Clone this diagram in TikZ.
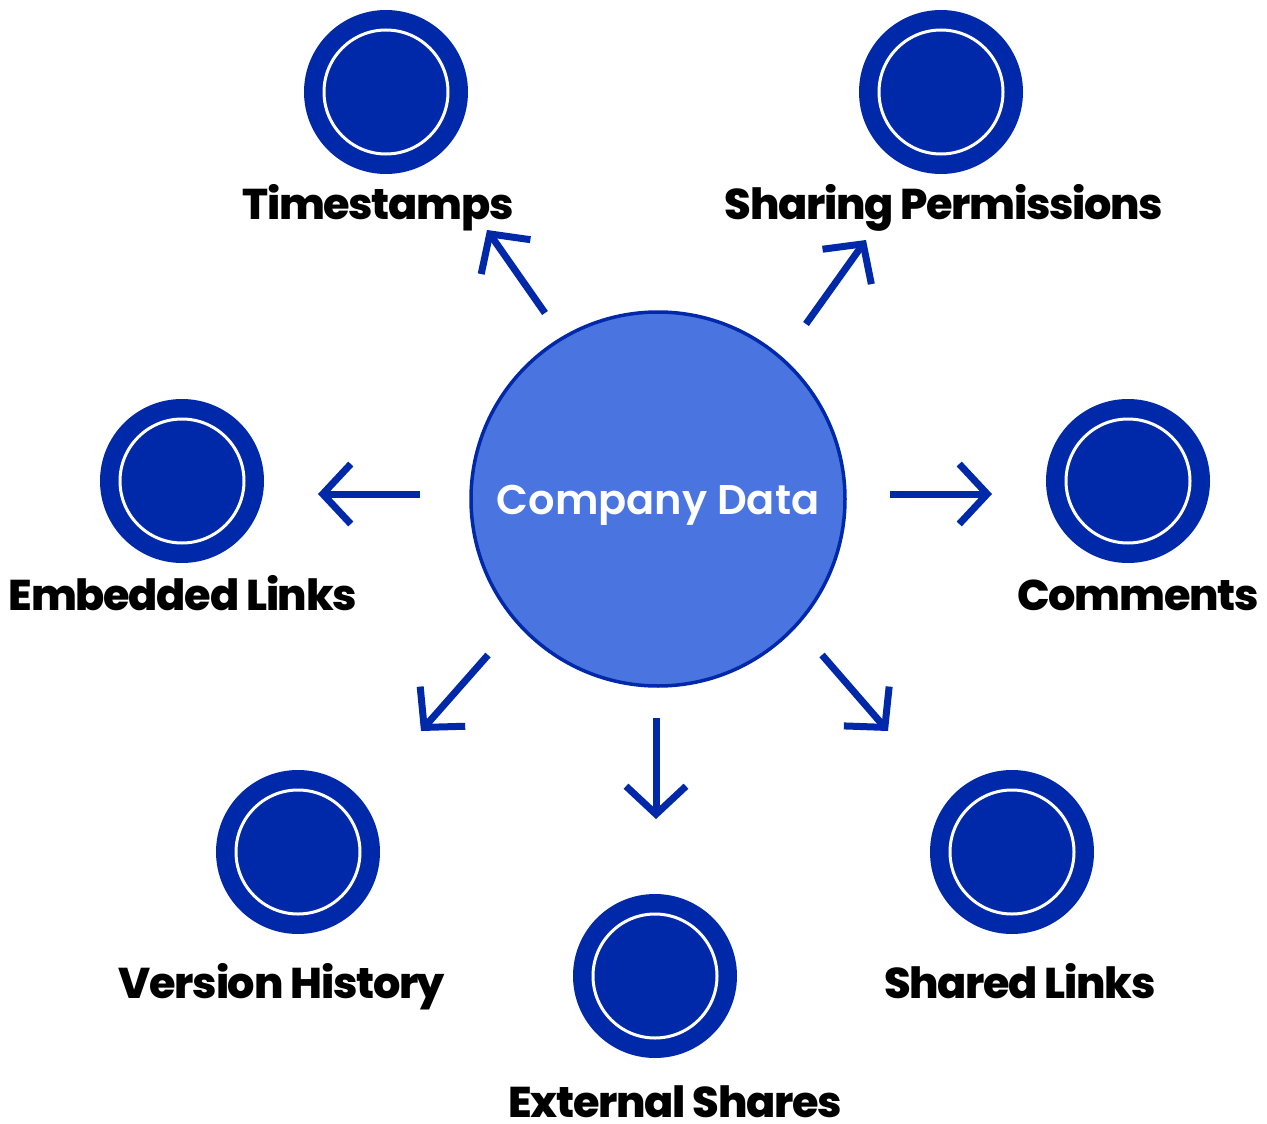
\documentclass[tikz,border=0pt]{standalone}
\usepackage{fontspec}
\setmainfont{Poppins}
\newfontfamily\popsb{Poppins SemiBold}
\newfontfamily\popxb[LetterSpace=-3]{Poppins ExtraBold}
\usetikzlibrary{arrows.meta}
\definecolor{dkblue}{HTML}{0029AA}
\definecolor{ltblue}{HTML}{4A75E1}
\tikzset{
  sat/.style={circle, fill=dkblue, minimum size=164pt, inner sep=0pt},
  ring/.style={circle, draw=white, line width=3pt, minimum size=124pt, inner sep=0pt},
  lbl/.style={font=\fontsize{43}{46}\popxb, text=black, anchor=base, inner sep=0pt},
  arr/.style={draw=dkblue, line width=7pt, -{Straight Barb[length=28pt, width=60pt, line join=miter]}},
}
\begin{document}
\begin{tikzpicture}[x=1pt, y=-1pt]
\useasboundingbox (0,0) rectangle (1267,1124);
% center
\node[circle, fill=ltblue, draw=dkblue, line width=3.5pt, minimum size=374pt, inner sep=0pt] (c) at (658,499) {};
\node[font=\fontsize{41.5}{44}\popsb, text=white, anchor=base, inner sep=0pt] (ct) at (658,514) {Company Data};
% satellites
\foreach \n/\x/\y in {ts/386/92, sp/941/92, el/182/481, cm/1128/481, vh/298/852, es/655/976, sl/1012/852}{
  \node[sat] (\n) at (\x,\y) {};
  \node[ring] (\n r) at (\x,\y) {};
}
% labels
\node[lbl] (tsl) at (378,219) {Timestamps};
\node[lbl] (spl) at (944,219) {Sharing Permissions};
\node[lbl] (ell) at (183,610) {Embedded Links};
\node[lbl] (cml) at (1138,610) {Comments};
\node[lbl] (vhl) at (282,998) {Version History};
\node[lbl] (sll) at (1020,998) {Shared Links};
\node[lbl] (esl) at (675,1117) {External Shares};
% arrow endpoints
\coordinate (a1s) at (545,313); \coordinate (a1e) at (487,230);
\coordinate (a2s) at (806,324); \coordinate (a2e) at (866,240);
\coordinate (a3s) at (420,494); \coordinate (a3e) at (318,494);
\coordinate (a4s) at (890,494); \coordinate (a4e) at (992,494);
\coordinate (a5s) at (488,655); \coordinate (a5e) at (421,731);
\coordinate (a6s) at (656,718); \coordinate (a6e) at (656,819);
\coordinate (a7s) at (822,655); \coordinate (a7e) at (888,731);
\foreach \i in {1,...,7}{\draw[arr] (a\i s) -- (a\i e);}
\end{tikzpicture}
\end{document}
